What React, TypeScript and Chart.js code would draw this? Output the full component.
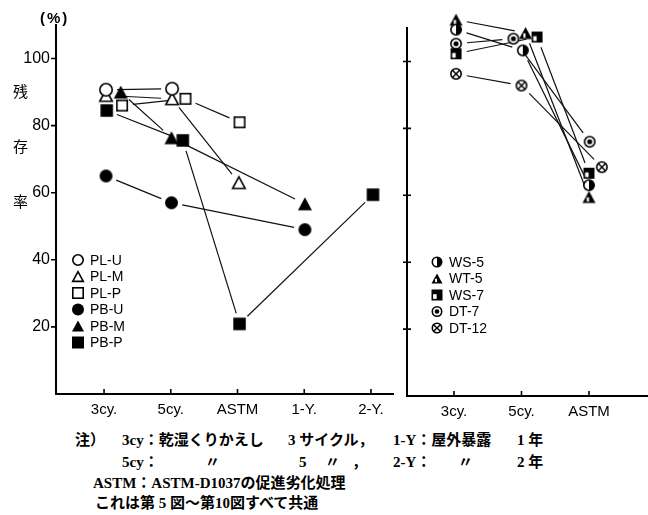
import React, { useEffect, useRef } from "react";
import { Chart, registerables } from "chart.js";

Chart.register(...registerables);

// ---- data -------------------------------------------------------------
const MAIN_CATEGORIES = ["3cy.", "5cy.", "ASTM", "1-Y.", "2-Y."];
const SIDE_CATEGORIES = ["3cy.", "5cy.", "ASTM"];
const Y_TICKS = [20, 40, 60, 80, 100];

// residual ratio (%) per treatment, null = not measured
const PL_U = [90.7, 91, null, null, null];
const PL_M = [89, 88, 63, null, null];
const PL_P = [86, 88, 81, null, null];
const PB_U = [65, 57, null, 49, null];
const PB_M = [90, 76.4, null, 56.7, null];
const PB_P = [84.5, 75.6, 20.9, null, 59.4];

const WS_5 = [109.5, 103.3, 63];
const WT_5 = [112.5, 108.5, 59.5];
const WS_7 = [102.3, 107.3, 66.6];
const DT_7 = [105.3, 106.8, 76];
const DT_12 = [96.3, 92.8, 68.4];

// small horizontal nudges (category units) so overlapping marks stay readable
const NUDGE: Record<string, number[]> = {
  "PL-U": [0.03, 0.02, 0, 0, 0],
  "PL-M": [0.03, 0.02, 0.02, 0, 0],
  "PL-P": [0.27, 0.22, 0.03, 0, 0],
  "PB-U": [0.03, 0.01, 0, 0.01, 0],
  "PB-M": [0.25, 0.01, 0, 0.01, 0],
  "PB-P": [0.04, 0.18, 0.03, 0, 0.03],
  "WS-5": [0.03, 0.02, 0.0],
  "WT-5": [0.03, 0.06, 0.0],
  "WS-7": [0.03, 0.23, 0.0],
  "DT-7": [0.03, -0.12, 0.01],
  "DT-12": [0.03, 0.0, 0.19],
};

type MarkerKind =
  | "circleOpen"
  | "triangleOpen"
  | "squareOpen"
  | "circleFilled"
  | "triangleFilled"
  | "squareFilled"
  | "circleHalf"
  | "triangleHalf"
  | "squareHalf"
  | "circleDot"
  | "circleCross";

const MAIN_SERIES: { label: string; values: (number | null)[]; marker: MarkerKind; size: number }[] = [
  { label: "PL-U", values: PL_U, marker: "circleOpen", size: 14 },
  { label: "PL-M", values: PL_M, marker: "triangleOpen", size: 14 },
  { label: "PL-P", values: PL_P, marker: "squareOpen", size: 12 },
  { label: "PB-U", values: PB_U, marker: "circleFilled", size: 13 },
  { label: "PB-M", values: PB_M, marker: "triangleFilled", size: 14 },
  { label: "PB-P", values: PB_P, marker: "squareFilled", size: 12.5 },
];

const SIDE_SERIES: { label: string; values: (number | null)[]; marker: MarkerKind; size: number }[] = [
  { label: "WS-5", values: WS_5, marker: "circleHalf", size: 12 },
  { label: "WT-5", values: WT_5, marker: "triangleHalf", size: 13 },
  { label: "WS-7", values: WS_7, marker: "squareHalf", size: 11 },
  { label: "DT-7", values: DT_7, marker: "circleDot", size: 12 },
  { label: "DT-12", values: DT_12, marker: "circleCross", size: 12 },
];

// ---- marker drawing ---------------------------------------------------
function trianglePath(ctx: CanvasRenderingContext2D, cx: number, cy: number, s: number) {
  const h = s * 0.92;
  ctx.beginPath();
  ctx.moveTo(cx, cy - h / 2);
  ctx.lineTo(cx + s / 2, cy + h / 2);
  ctx.lineTo(cx - s / 2, cy + h / 2);
  ctx.closePath();
}

function drawMarker(ctx: CanvasRenderingContext2D, kind: MarkerKind, cx: number, cy: number, s: number) {
  const r = s / 2;
  ctx.save();
  ctx.lineWidth = 1.6;
  ctx.strokeStyle = "#000";
  ctx.fillStyle = "#000";
  switch (kind) {
    case "circleOpen":
      ctx.beginPath();
      ctx.arc(cx, cy, r - 0.8, 0, Math.PI * 2);
      ctx.fillStyle = "#fff";
      ctx.fill();
      ctx.stroke();
      break;
    case "circleFilled":
      ctx.beginPath();
      ctx.arc(cx, cy, r, 0, Math.PI * 2);
      ctx.fill();
      break;
    case "triangleOpen":
      trianglePath(ctx, cx, cy, s - 1.4);
      ctx.fillStyle = "#fff";
      ctx.fill();
      ctx.stroke();
      break;
    case "triangleFilled":
      trianglePath(ctx, cx, cy, s);
      ctx.fill();
      break;
    case "squareOpen":
      ctx.fillStyle = "#fff";
      ctx.fillRect(cx - r + 0.8, cy - r + 0.8, s - 1.6, s - 1.6);
      ctx.strokeRect(cx - r + 0.8, cy - r + 0.8, s - 1.6, s - 1.6);
      break;
    case "squareFilled":
      ctx.fillRect(cx - r, cy - r, s, s);
      break;
    case "circleHalf":
      ctx.beginPath();
      ctx.arc(cx, cy, r - 0.8, 0, Math.PI * 2);
      ctx.fillStyle = "#fff";
      ctx.fill();
      ctx.stroke();
      ctx.beginPath();
      ctx.arc(cx, cy, r - 0.8, -Math.PI / 2, Math.PI / 2);
      ctx.closePath();
      ctx.fillStyle = "#000";
      ctx.fill();
      break;
    case "triangleHalf": {
      trianglePath(ctx, cx, cy, s);
      ctx.fill();
      ctx.fillStyle = "#fff";
      const h = s * 0.92;
      ctx.fillRect(cx - s * 0.17, cy + h * 0.02, s * 0.17, h * 0.5 - 1.6);
      break;
    }
    case "squareHalf":
      ctx.fillRect(cx - r, cy - r, s, s);
      ctx.fillStyle = "#fff";
      ctx.fillRect(cx - r + 1.6, cy - r * 0.15, s * 0.32, r * 1.15 - 1.6);
      break;
    case "circleDot":
      ctx.beginPath();
      ctx.arc(cx, cy, r - 0.8, 0, Math.PI * 2);
      ctx.fillStyle = "#fff";
      ctx.fill();
      ctx.stroke();
      ctx.beginPath();
      ctx.arc(cx, cy, r * 0.42, 0, Math.PI * 2);
      ctx.fillStyle = "#000";
      ctx.fill();
      break;
    case "circleCross": {
      ctx.beginPath();
      ctx.arc(cx, cy, r - 0.8, 0, Math.PI * 2);
      ctx.fillStyle = "#fff";
      ctx.fill();
      ctx.stroke();
      const k = (r - 0.8) * 0.707;
      ctx.beginPath();
      ctx.moveTo(cx - k, cy - k);
      ctx.lineTo(cx + k, cy + k);
      ctx.moveTo(cx + k, cy - k);
      ctx.lineTo(cx - k, cy + k);
      ctx.lineWidth = 1.4;
      ctx.stroke();
      break;
    }
  }
  ctx.restore();
}

function markerImage(kind: MarkerKind, size: number): HTMLCanvasElement {
  const d = Math.ceil(size + 4);
  const c = document.createElement("canvas");
  c.width = d;
  c.height = d;
  const ctx = c.getContext("2d")!;
  drawMarker(ctx, kind, d / 2, d / 2, size);
  return c;
}

// ---- plugins ------------------------------------------------------------
// connecting segments that stop short of the marks, as in hand-drawn plots
const gapLines = {
  id: "gapLines",
  beforeDatasetsDraw(chart: any, _args: any, opts: any) {
    const ctx: CanvasRenderingContext2D = chart.ctx;
    const gap = opts.gap ?? 11;
    ctx.save();
    ctx.strokeStyle = "#111";
    ctx.lineWidth = opts.width ?? 1.2;
    chart.data.datasets.forEach((_ds: any, di: number) => {
      const pts = chart.getDatasetMeta(di).data;
      for (let i = 0; i < pts.length - 1; i++) {
        const a = pts[i];
        const b = pts[i + 1];
        const dx = b.x - a.x;
        const dy = b.y - a.y;
        const len = Math.hypot(dx, dy);
        if (len <= 2 * gap) continue;
        const ux = dx / len;
        const uy = dy / len;
        ctx.beginPath();
        ctx.moveTo(a.x + ux * gap, a.y + uy * gap);
        ctx.lineTo(b.x - ux * gap, b.y - uy * gap);
        ctx.stroke();
      }
    });
    ctx.restore();
  },
};

const axisTicks = {
  id: "axisTicks",
  afterDraw(chart: any, _args: any, opts: any) {
    const ctx: CanvasRenderingContext2D = chart.ctx;
    const { chartArea, scales } = chart;
    ctx.save();
    ctx.strokeStyle = "#000";
    ctx.lineWidth = 1.6;
    ctx.beginPath();
    scales.x.ticks.forEach((t: any) => {
      const px = scales.x.getPixelForValue(t.value);
      ctx.moveTo(px, chartArea.bottom);
      ctx.lineTo(px, chartArea.bottom - opts.xIn);
    });
    scales.y.ticks.forEach((t: any) => {
      const py = scales.y.getPixelForValue(t.value);
      ctx.moveTo(chartArea.left - opts.yOut, py);
      ctx.lineTo(chartArea.left + opts.yIn, py);
    });
    ctx.stroke();
    ctx.restore();
  },
};

const markLegend = {
  id: "markLegend",
  afterDraw(chart: any, _args: any, opts: any) {
    const ctx: CanvasRenderingContext2D = chart.ctx;
    ctx.save();
    ctx.font = opts.font;
    ctx.fillStyle = "#000";
    ctx.textBaseline = "middle";
    ctx.textAlign = "left";
    chart.data.datasets.forEach((ds: any, i: number) => {
      const y = opts.y + i * opts.dy;
      drawMarker(ctx, ds.marker, opts.x, y, opts.size);
      ctx.fillText(ds.label, opts.textX, y + 1);
    });
    ctx.restore();
  },
};

// ---- chart builder --------------------------------------------------------
function buildChart(
  canvas: HTMLCanvasElement,
  series: typeof MAIN_SERIES,
  categories: string[],
  cfg: {
    xMin: number;
    xMax: number;
    padTop: number;
    padRight: number;
    yWidth: number;
    xHeight: number;
    showYLabels: boolean;
    yOut: number;
    yIn: number;
    legend: { x: number; y: number; dy: number; textX: number; size: number };
  }
) {
  const datasets = series.map((s) => {
    const nudge = NUDGE[s.label] || [];
    const points: { x: number; y: number }[] = [];
    s.values.forEach((v, i) => {
      if (v === null) return;
      points.push({ x: i + 1 + (nudge[i] || 0), y: v });
    });
    return {
      label: s.label,
      marker: s.marker,
      data: points,
      showLine: false,
      pointStyle: markerImage(s.marker, s.size),
      // generous radius so marks just above the top of the axis are still drawn
      pointRadius: 16,
      pointBorderWidth: 0,
      clip: false as any,
    };
  });

  const font = { family: '"Liberation Sans", Arial, sans-serif' };

  return new Chart(canvas, {
    type: "scatter",
    data: { datasets: datasets as any },
    options: {
      animation: false,
      responsive: false,
      events: [],
      layout: { autoPadding: false, padding: { top: cfg.padTop, right: cfg.padRight, left: 0, bottom: 0 } },
      plugins: {
        legend: { display: false },
        tooltip: { enabled: false },
        gapLines: { gap: 11, width: 1.2 },
        axisTicks: { xIn: 5, yOut: cfg.yOut, yIn: cfg.yIn },
        markLegend: { ...cfg.legend, font: '14px "Liberation Sans", Arial, sans-serif' },
      } as any,
      scales: {
        x: {
          type: "linear",
          min: cfg.xMin,
          max: cfg.xMax,
          afterBuildTicks: (scale: any) => {
            scale.ticks = categories.map((_c, i) => ({ value: i + 1 }));
          },
          afterFit: (scale: any) => {
            scale.height = cfg.xHeight;
          },
          ticks: {
            autoSkip: false,
            maxRotation: 0,
            padding: 7,
            color: "#000",
            font: { ...font, size: 15 },
            callback: (v: any) => categories[Math.round(Number(v)) - 1] ?? "",
          },
          grid: { drawOnChartArea: false, drawTicks: false },
          border: { color: "#000", width: 2 },
        },
        y: {
          type: "linear",
          min: 0,
          max: 110,
          afterBuildTicks: (scale: any) => {
            scale.ticks = Y_TICKS.map((v) => ({ value: v }));
          },
          afterFit: (scale: any) => {
            scale.width = cfg.yWidth;
          },
          ticks: {
            display: cfg.showYLabels,
            padding: 6,
            color: "#000",
            font: { ...font, size: 16 },
          },
          grid: { drawOnChartArea: false, drawTicks: false },
          border: { color: "#000", width: 2 },
        },
      },
    },
    plugins: [gapLines, axisTicks, markLegend],
  });
}

// ---- notes under the plots ---------------------------------------------------
const NOTE_FONT = '"Liberation Serif", "Noto Sans CJK JP", serif';
const NOTE_LINES: { top: number; parts: [number, string][] }[] = [
  {
    top: 440,
    parts: [
      [75, "注）"],
      [122, "3cy：乾湿くりかえし"],
      [288, "3 サイクル，"],
      [393, "1-Y：屋外暴露"],
      [517, "1 年"],
    ],
  },
  {
    top: 462,
    parts: [
      [122, "5cy："],
      [205, "〃"],
      [299, "5"],
      [325, "〃"],
      [352, "，"],
      [393, "2-Y："],
      [458, "〃"],
      [517, "2 年"],
    ],
  },
  { top: 483, parts: [[93, "ASTM：ASTM-D1037の促進劣化処理"]] },
  { top: 503, parts: [[95, "これは第 5 図～第10図すべて共通"]] },
];

export default function App() {
  const mainRef = useRef<HTMLCanvasElement>(null);
  const sideRef = useRef<HTMLCanvasElement>(null);

  useEffect(() => {
    const main = buildChart(mainRef.current!, MAIN_SERIES, MAIN_CATEGORIES, {
      xMin: 0.28,
      xMax: 5.33,
      padTop: 25,
      padRight: 2,
      yWidth: 56,
      xHeight: 36,
      showYLabels: true,
      yOut: 5,
      yIn: 0,
      legend: { x: 78, y: 260, dy: 16.5, textX: 90, size: 12 },
    });
    const side = buildChart(sideRef.current!, SIDE_SERIES, SIDE_CATEGORIES, {
      xMin: 0.304,
      xMax: 3.874,
      padTop: 28,
      padRight: 0,
      yWidth: 12,
      xHeight: 34,
      showYLabels: false,
      yOut: 4,
      yIn: 4,
      legend: { x: 42, y: 262, dy: 16.5, textX: 54, size: 11 },
    });
    return () => {
      main.destroy();
      side.destroy();
    };
  }, []);

  return (
    <div
      style={{
        position: "absolute",
        left: 0,
        top: 0,
        width: 648,
        height: 515,
        background: "#fff",
        overflow: "hidden",
        color: "#000",
      }}
    >
      <canvas ref={mainRef} width={395} height={430} style={{ position: "absolute", left: 0, top: 0, width: 395, height: 430 }} />
      <canvas ref={sideRef} width={253} height={430} style={{ position: "absolute", left: 395, top: 0, width: 253, height: 430 }} />

      <div
        style={{
          position: "absolute",
          left: 40,
          top: 9,
          font: 'bold 15px "Liberation Sans", Arial, sans-serif',
          letterSpacing: 2,
          whiteSpace: "nowrap",
        }}
      >
        (%)
      </div>

      {[
        ["残", 90],
        ["存", 145],
        ["率", 200],
      ].map(([ch, cy]) => (
        <div
          key={ch as string}
          style={{
            position: "absolute",
            left: 13,
            top: (cy as number) - 10,
            height: 20,
            lineHeight: "20px",
            font: '15px "Noto Sans CJK JP", sans-serif',
          }}
        >
          {ch}
        </div>
      ))}

      {NOTE_LINES.map((line, li) =>
        line.parts.map(([x, text], pi) => (
          <div
            key={`${li}-${pi}`}
            style={{
              position: "absolute",
              left: x,
              top: line.top - 10,
              height: 20,
              lineHeight: "20px",
              fontFamily: NOTE_FONT,
              fontSize: 15,
              fontWeight: 600,
              whiteSpace: "nowrap",
            }}
          >
            {text}
          </div>
        ))
      )}
    </div>
  );
}
